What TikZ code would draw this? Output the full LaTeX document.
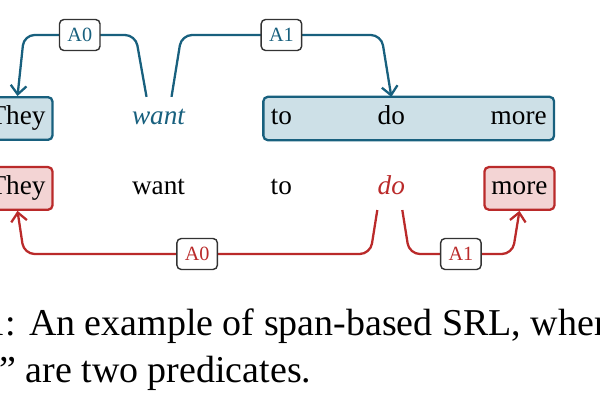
\documentclass[tikz,border=0pt]{standalone}
\usepackage{fontspec}
\setmainfont{Liberation Serif}
\usetikzlibrary{arrows.meta, positioning, fit, calc, backgrounds}
\definecolor{srlblue}{RGB}{24,96,126}
\definecolor{srlbluefill}{RGB}{205,224,231}
\definecolor{srlred}{RGB}{186,42,42}
\definecolor{srlredfill}{RGB}{243,212,212}
\tikzstyle{word}=[inner xsep=4pt, inner ysep=5pt, text height=10.5pt, text depth=3.75pt, font=\fontsize{15.5}{18}\selectfont]
\tikzstyle{bluebox}=[draw=srlblue, fill=srlbluefill, line width=1.3pt, rounded corners=2.5pt]
\tikzstyle{redbox}=[draw=srlred, fill=srlredfill, line width=1.3pt, rounded corners=2.5pt]
\tikzstyle{arg}=[line width=1.3pt, rounded corners=6pt, ->]
\tikzstyle{lbl}=[draw=black!80, fill=white, rounded corners=2.5pt, line width=0.8pt, inner xsep=4.5pt, inner ysep=2pt, minimum height=0.62cm, font=\fontsize{11.5}{13}\selectfont]

\begin{document}
\begin{tikzpicture}[>={Straight Barb[length=5pt,width=9pt]}]
  \clip (0,0) rectangle (12,-8);
  % predicate "want"
  \node[word, bluebox] (they1) at (0.35,-2.37) {They};
  \node[word, right=1.42cm of they1, text=srlblue, font=\fontsize{15.5}{18}\selectfont\itshape] (want1) {want};
  \node[word, right=1.42cm of want1] (to1) {to};
  \node[word, right=1.42cm of to1] (do1) {do};
  \node[word, right=1.42cm of do1] (more1) {more};
  \begin{scope}[on background layer]
    \node[bluebox, fit=(to1)(more1), inner sep=0pt] (span1) {};
  \end{scope}
  % predicate "do"
  \node[word, redbox, below=0.5cm of they1] (they2) {They};
  \node[word, right=1.42cm of they2] (want2) {want};
  \node[word, right=1.42cm of want2] (to2) {to};
  \node[word, right=1.42cm of to2, text=srlred, font=\fontsize{15.5}{18}\selectfont\itshape] (do2) {do};
  \node[word, redbox, right=1.42cm of do2] (more2) {more};

  \coordinate (top) at (0,-0.7);
  \coordinate (bot) at (0,-5.08);
  \draw[arg, srlblue] ([xshift=-0.24cm]want1.north) -- ($(want1.north |- top)+(-0.46,0)$)
    -- node[lbl]{A0} ($(they1.north |- top)+(0.13,0)$) -- (they1.north);
  \draw[arg, srlblue] ([xshift=0.26cm]want1.north) -- ($(want1.north |- top)+(0.46,0)$)
    -- node[lbl]{A1} ($(do1.north |- top)+(-0.2,0)$) -- (do1.north);
  \draw[arg, srlred] ([xshift=-0.28cm]do2.south) -- ($(do2.south |- bot)+(-0.42,0)$)
    -- node[lbl]{A0} ($(they2.south |- bot)+(0.13,0)$) -- (they2.south);
  \draw[arg, srlred] ([xshift=0.22cm]do2.south) -- ($(do2.south |- bot)+(0.36,0)$)
    -- node[lbl]{A1} ($(more2.south |- bot)+(-0.14,0)$) -- (more2.south);

  % caption
  \node[anchor=base west, inner sep=0pt, font=\fontsize{21.6}{26}\selectfont] (cap1) at (-0.27,-6.72) {1: An example of span-based SRL, where};
  \node[anchor=base west, inner sep=0pt, font=\fontsize{21.6}{26}\selectfont] (cap2) at (-0.02,-7.66) {” are two predicates.};
\end{tikzpicture}
\end{document}
